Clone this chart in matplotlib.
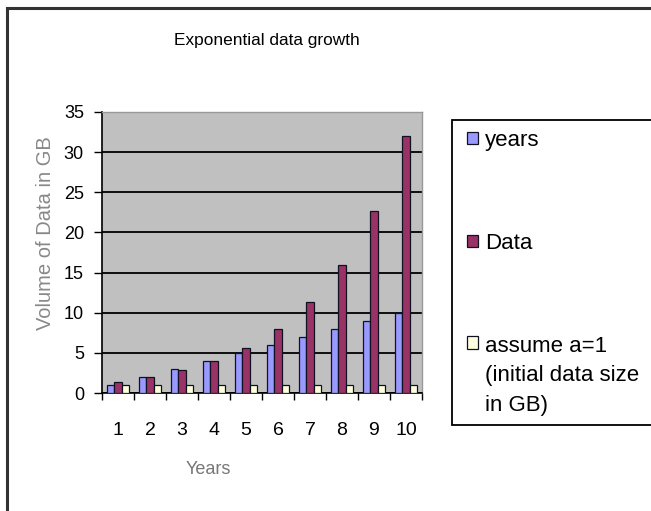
import matplotlib
matplotlib.use("Agg")
import matplotlib.pyplot as plt
import numpy as np
from matplotlib.lines import Line2D
from matplotlib.patches import Rectangle

plt.rcParams['font.family'] = ['Liberation Sans', 'DejaVu Sans']

categories = ["1", "2", "3", "4", "5", "6", "7", "8", "9", "10"]
years = [1, 2, 3, 4, 5, 6, 7, 8, 9, 10]
data = [1.41, 2, 2.83, 4, 5.66, 8, 11.31, 16, 22.63, 32]
assume = [1, 1, 1, 1, 1, 1, 1, 1, 1, 1]
series_labels = ["years", "Data", "assume a=1\n(initial data size\nin GB)"]
colors = ["#9999FF", "#993366", "#FFFFE0"]

W, H = 651, 511
fig = plt.figure(figsize=(W / 100, H / 100), dpi=100)
fig.patch.set_facecolor("white")

# outer chart border (top and left visible)
fig.add_artist(Line2D([7 / W, 7 / W], [0, 1 - 8 / H], transform=fig.transFigure,
                      color="#333333", lw=2.2))
fig.add_artist(Line2D([7 / W, 1], [1 - 8 / H, 1 - 8 / H], transform=fig.transFigure,
                      color="#333333", lw=2.2))

left, right, top, bottom = 102, 422, 112, 393
ax = fig.add_axes([left / W, 1 - bottom / H, (right - left) / W, (bottom - top) / H])
ax.set_facecolor("#C0C0C0")

x = np.arange(1, len(categories) + 1)
w = 1 / 4.5
for i, (vals, c) in enumerate(zip([years, data, assume], colors)):
    ax.bar(x + (i - 1) * w, vals, width=w, color=c, edgecolor="#111122",
           linewidth=0.9, label=series_labels[i], zorder=3)

ax.set_ylim(0, 35)
ax.set_xlim(0.5, 10.5)
ax.set_yticks(np.arange(0, 36, 5))
ax.yaxis.grid(True, color="black", linewidth=1.3, zorder=1)
ax.set_axisbelow(True)

ax.set_xticks(np.arange(0.5, 11, 1))
ax.set_xticklabels([])
ax.set_xticks(x, minor=True)
ax.set_xticklabels(categories, minor=True)
for t in ax.get_xticklabels(minor=True):
    t.set_fontsize(14)
for t in ax.get_yticklabels():
    t.set_fontsize(13)
ax.tick_params(axis="x", which="major", direction="out", length=5, width=1)
ax.tick_params(axis="x", which="minor", length=0, pad=21)
ax.tick_params(axis="y", direction="out", length=6, width=1, pad=7)

for s in ["top", "right"]:
    ax.spines[s].set_color("#999999")
    ax.spines[s].set_linewidth(1)
ax.spines["left"].set_linewidth(1.2)
ax.spines["bottom"].set_linewidth(1.2)

ax.set_ylabel("Volume of Data in GB", fontsize=14.5, color="#888888")
ax.yaxis.set_label_coords((55 - left) / (right - left), (bottom - 233) / (bottom - top))
ax.set_xlabel("Years", fontsize=13, color="#777777")
ax.xaxis.set_label_coords((208 - left) / (right - left), -(469 - bottom) / (bottom - top))
ax.xaxis.label.set_va("center")

fig.text(267 / W, 1 - 40 / H, "Exponential data growth", ha="center", va="center",
         fontsize=12.4)

# legend frame
fig.add_artist(Rectangle((452 / W, 1 - 425 / H), (W + 10 - 452) / W, (425 - 120) / H,
                         transform=fig.transFigure, facecolor="white",
                         edgecolor="black", linewidth=1.3, zorder=0))

leg = ax.legend(loc="upper left", bbox_to_anchor=(467 / W, 1 - 130 / H),
                bbox_transform=fig.transFigure, frameon=False,
                fontsize=16, handlelength=0.5, handleheight=0.5, handletextpad=0.3,
                labelspacing=3.68, borderpad=0, borderaxespad=0)
for t in leg.get_texts():
    t.set_linespacing(1.55)
h3 = leg.legend_handles[2]
h3.set_y(h3.get_y() + 24)

fig.savefig("out.png", dpi=100)
